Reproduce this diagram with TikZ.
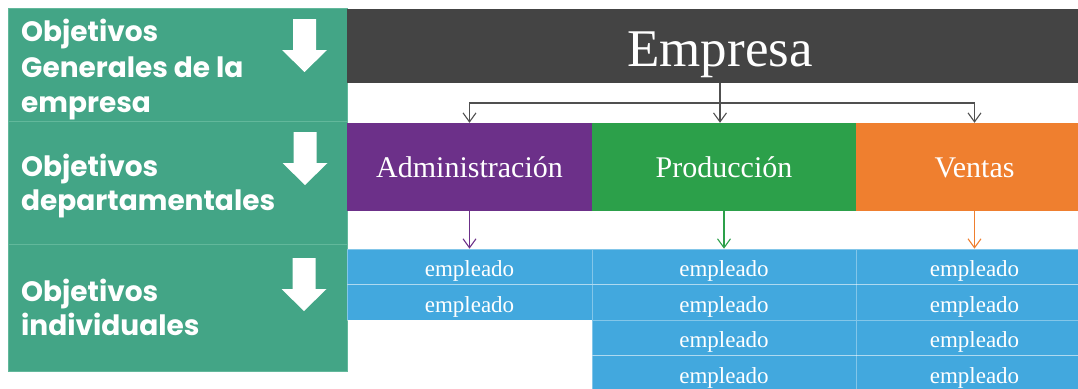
\documentclass[tikz,border=0pt]{standalone}
\usepackage{fontspec}
\setmainfont{Liberation Serif}
\newfontfamily\gothic{Poppins}
\usetikzlibrary{arrows.meta}
\definecolor{panelgreen}{HTML}{43A586}
\definecolor{panelline}{HTML}{62B89B}
\definecolor{darkbar}{HTML}{444444}
\definecolor{admcol}{HTML}{6C3089}
\definecolor{prodcol}{HTML}{2CA04A}
\definecolor{vencol}{HTML}{EF7F2F}
\definecolor{empcol}{HTML}{42A8DE}
\definecolor{conncol}{HTML}{505050}
\tikzset{
  section/.style={fill=panelgreen, draw=panelline, line width=0.6pt, minimum width=339pt, inner sep=0pt},
  lefttext/.style={anchor=base west, text=white, inner sep=0pt, font=\gothic\bfseries\fontsize{28}{35}\selectfont},
  whitearrow/.style={fill=white, draw=none},
  deptbox/.style={minimum height=88pt, inner sep=0pt, text=white, text height=20.6pt, text depth=0pt, font=\fontsize{30}{30}\selectfont},
  empcell/.style={fill=empcol, draw=white, draw opacity=0.35, line width=0.6pt, minimum height=35.5pt, inner sep=0pt, text=white, text height=20pt, text depth=0pt, font=\fontsize{23}{23}\selectfont},
  conn/.style={draw=conncol, line width=1.1pt, -{Straight Barb[length=9pt,width=13pt,line width=1.1pt]}},
  dconn/.style={line width=1.1pt, -{Straight Barb[length=9pt,width=13pt,line width=1.1pt]}},
}
\begin{document}
\begin{tikzpicture}[x=1pt,y=-1pt]
\useasboundingbox (0,0) rectangle (1078,388);
\clip (0,0) rectangle (1078,388);
% left panel
\node[section, minimum height=113pt] (s1) at (177.5,64.5) {};
\node[section, minimum height=123pt] (s2) at (177.5,182.5) {};
\node[section, minimum height=127pt] (s3) at (177.5,307.5) {};
\node[lefttext] (t1a) at (21,41.7) {Objetivos};
\node[lefttext] (t1b) at (21,77) {Generales de la};
\node[lefttext] (t1c) at (21,112) {empresa};
\node[lefttext] (t2a) at (21,176) {Objetivos};
\node[lefttext] (t2b) at (21,210.7) {departamentales};
\node[lefttext] (t3a) at (21,301.7) {Objetivos};
\node[lefttext] (t3b) at (21,335) {individuales};
% white block arrows
\foreach \cx/\top in {304.5/19, 305/132, 304/258}{
  \fill[whitearrow] (\cx-11.5,\top) -- (\cx+11.5,\top) -- (\cx+11.5,\top+31) -- (\cx+22.5,\top+31)
    -- (\cx,\top+53) -- (\cx-22.5,\top+31) -- (\cx-11.5,\top+31) -- cycle;
}
% top bar
\node[fill=darkbar, minimum width=746pt, minimum height=74pt, inner sep=0pt] (empresa) at (720,46) {};
\node[anchor=base, inner sep=0pt, text=white, font=\fontsize{53}{53}\selectfont] (empresaT) at (720,66.7) {Empresa};
% departments
\node[deptbox, fill=admcol, minimum width=245pt] (admin) at (469.5,167) {Administración};
\node[deptbox, fill=prodcol, minimum width=264pt] (prod) at (724,167) {Producción};
\node[deptbox, fill=vencol, minimum width=237pt] (ventas) at (974.5,167) {Ventas};
% employees
\foreach \i/\y in {1/266.75, 2/302.25}{
  \node[empcell, minimum width=245pt] (a\i) at (469.5,\y) {empleado};
}
\foreach \i/\y in {1/266.75, 2/302.25, 3/337.75, 4/373.25}{
  \node[empcell, minimum width=264pt] (p\i) at (724,\y) {empleado};
  \node[empcell, minimum width=237pt] (v\i) at (974.5,\y) {empleado};
}
% connectors
\coordinate (bus) at (720,103);
\draw[conn] (empresa.south) -- (empresa.south |- prod.north);
\draw[conn] (bus) -| (admin.north);
\draw[conn] (bus) -| (ventas.north);
\draw[dconn, draw=admcol] (admin.south) -- (a1.north);
\draw[dconn, draw=prodcol] (prod.south) -- (p1.north);
\draw[dconn, draw=vencol] (ventas.south) -- (v1.north);
\end{tikzpicture}
\end{document}
